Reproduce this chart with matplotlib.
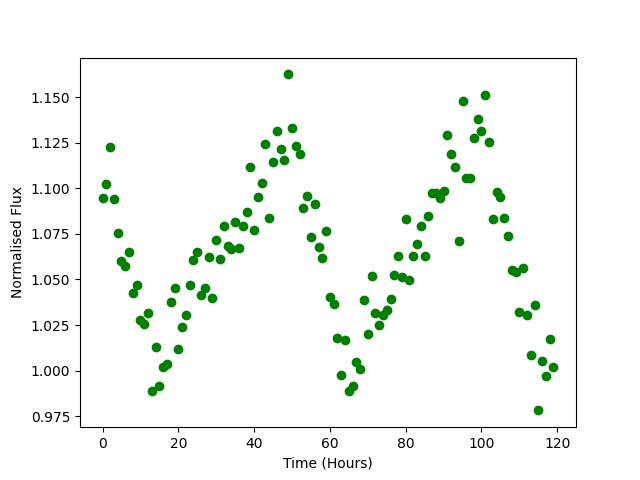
import matplotlib
matplotlib.use("Agg")
import matplotlib.pyplot as plt
import numpy as np

hours = list(range(120))
flux = [
    1.0945, 1.1025, 1.1224, 1.0939, 1.0753, 1.0599, 1.0575, 1.0649, 1.0424, 1.0468,
    1.0277, 1.0254, 1.0314, 0.9887, 1.0128, 0.9914, 1.0018, 1.0034, 1.0374, 1.0451,
    1.0117, 1.0237, 1.0307, 1.0468, 1.0605, 1.0649, 1.0413, 1.0451, 1.0621, 1.0396,
    1.0714, 1.0610, 1.0791, 1.0683, 1.0665, 1.0813, 1.0670, 1.0791, 1.0868, 1.1115,
    1.0769, 1.0950, 1.1027, 1.1241, 1.0835, 1.1142, 1.1312, 1.1213, 1.1153, 1.1624,
    1.1328, 1.1230, 1.1186, 1.0890, 1.0956, 1.0731, 1.0912, 1.0676, 1.0616, 1.0764,
    1.0402, 1.0363, 1.0177, 0.9974, 1.0166, 0.9887, 0.9914, 1.0045, 1.0007, 1.0385,
    1.0199, 1.0517, 1.0314, 1.0248, 1.0307, 1.0331, 1.0391, 1.0522, 1.0627, 1.0512,
    1.0829, 1.0495, 1.0627, 1.0692, 1.0791, 1.0627, 1.0846, 1.0972, 1.0972, 1.0945,
    1.0983, 1.1290, 1.1186, 1.1115, 1.0709, 1.1476, 1.1054, 1.1054, 1.1274, 1.1378,
    1.1312, 1.1509, 1.1252, 1.0829, 1.0978, 1.0950, 1.0835, 1.0736, 1.0550, 1.0539,
    1.0320, 1.0561, 1.0307, 1.0084, 1.0358, 0.9782, 1.0051, 0.9969, 1.0172, 1.0018,
]

fig, ax = plt.subplots(figsize=(6.4, 4.8), dpi=100)
ax.plot(hours, flux, 'o', color='green')
ax.set_xlabel('Time (Hours)')
ax.set_ylabel('Normalised Flux')
fig.savefig('out.png')
